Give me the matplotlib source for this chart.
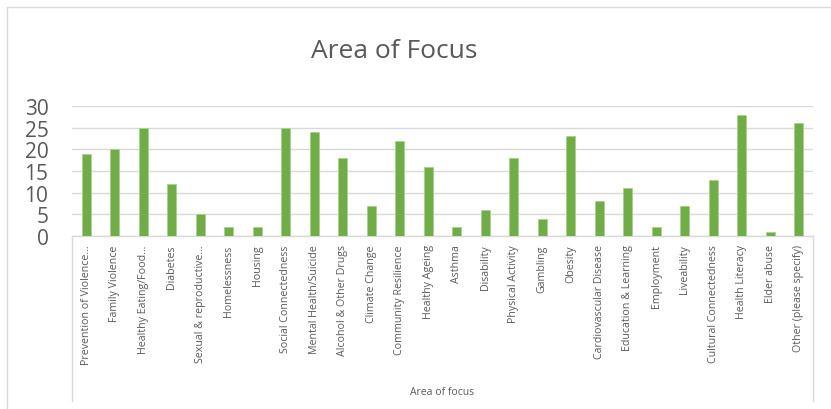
import matplotlib.pyplot as plt
from matplotlib.patches import Rectangle
from matplotlib.lines import Line2D

plt.rcParams['font.family'] = ['Open Sans', 'DejaVu Sans']

# datos
categorias = ["Prevention of Violence…", "Family Violence", "Healthy Eating/Food…",
              "Diabetes", "Sexual & reproductive…", "Homelessness", "Housing",
              "Social Connectedness", "Mental Health/Suicide", "Alcohol & Other Drugs",
              "Climate Change", "Community Resilience", "Healthy Ageing", "Asthma",
              "Disability", "Physical Activity", "Gambling", "Obesity",
              "Cardiovascular Disease", "Education & Learning", "Employment",
              "Liveability", "Cultural Connectedness", "Health Literacy",
              "Elder abuse", "Other (please specify)"]
valores = [19, 20, 25, 12, 5, 2, 2, 25, 24, 18, 7, 22, 16, 2, 6, 18, 4, 23,
           8, 11, 2, 7, 13, 28, 1, 26]
yticks = [0, 5, 10, 15, 20, 25, 30]

gris = "#595959"
linea = "#D9D9D9"

fig = plt.figure(figsize=(8.31, 4.10), dpi=100)
ax = fig.add_axes([72/831, 1-237/410, (813-72)/831, 130/410])

x = range(len(categorias))
ax.bar(x, valores, width=0.32, color="#70AD47", edgecolor="#A9D08E", linewidth=0.6, zorder=3)

ax.set_xlim(-0.5, len(categorias) - 0.5)
ax.set_ylim(0, 30)
ax.set_yticks(yticks)
ax.set_yticklabels([str(v) for v in yticks], fontsize=15, color=gris)
ax.set_xticks(list(x))
ax.set_xticklabels(categorias, rotation=90, fontsize=7.7, color=gris)
ax.tick_params(axis="both", length=0)
ax.tick_params(axis="y", pad=17)
ax.tick_params(axis="x", pad=6)
ax.grid(axis="y", color=linea, linewidth=1, zorder=0)
for s in ["top", "right", "left"]:
    ax.spines[s].set_visible(False)
ax.spines["bottom"].set_color(linea)
ax.spines["bottom"].set_linewidth(1)

# titulo y etiqueta
fig.text(394/831, 1-51/410, "Area of Focus", fontsize=19, color=gris, ha="center", va="center")
fig.text(442/831, 1-393/410, "Area of focus", fontsize=7.5, color=gris, ha="center", va="center")

# lineas del eje de categorias
for px in [72, 813]:
    fig.add_artist(Line2D([px/831, px/831], [1-237/410, 1-402/410], color=linea, lw=1))

# borde del grafico
fig.add_artist(Rectangle((7/831, -0.05), 1, 1-8/410+0.05, fill=False,
                         edgecolor=linea, lw=1, transform=fig.transFigure))

fig.savefig("out.png", dpi=100)
